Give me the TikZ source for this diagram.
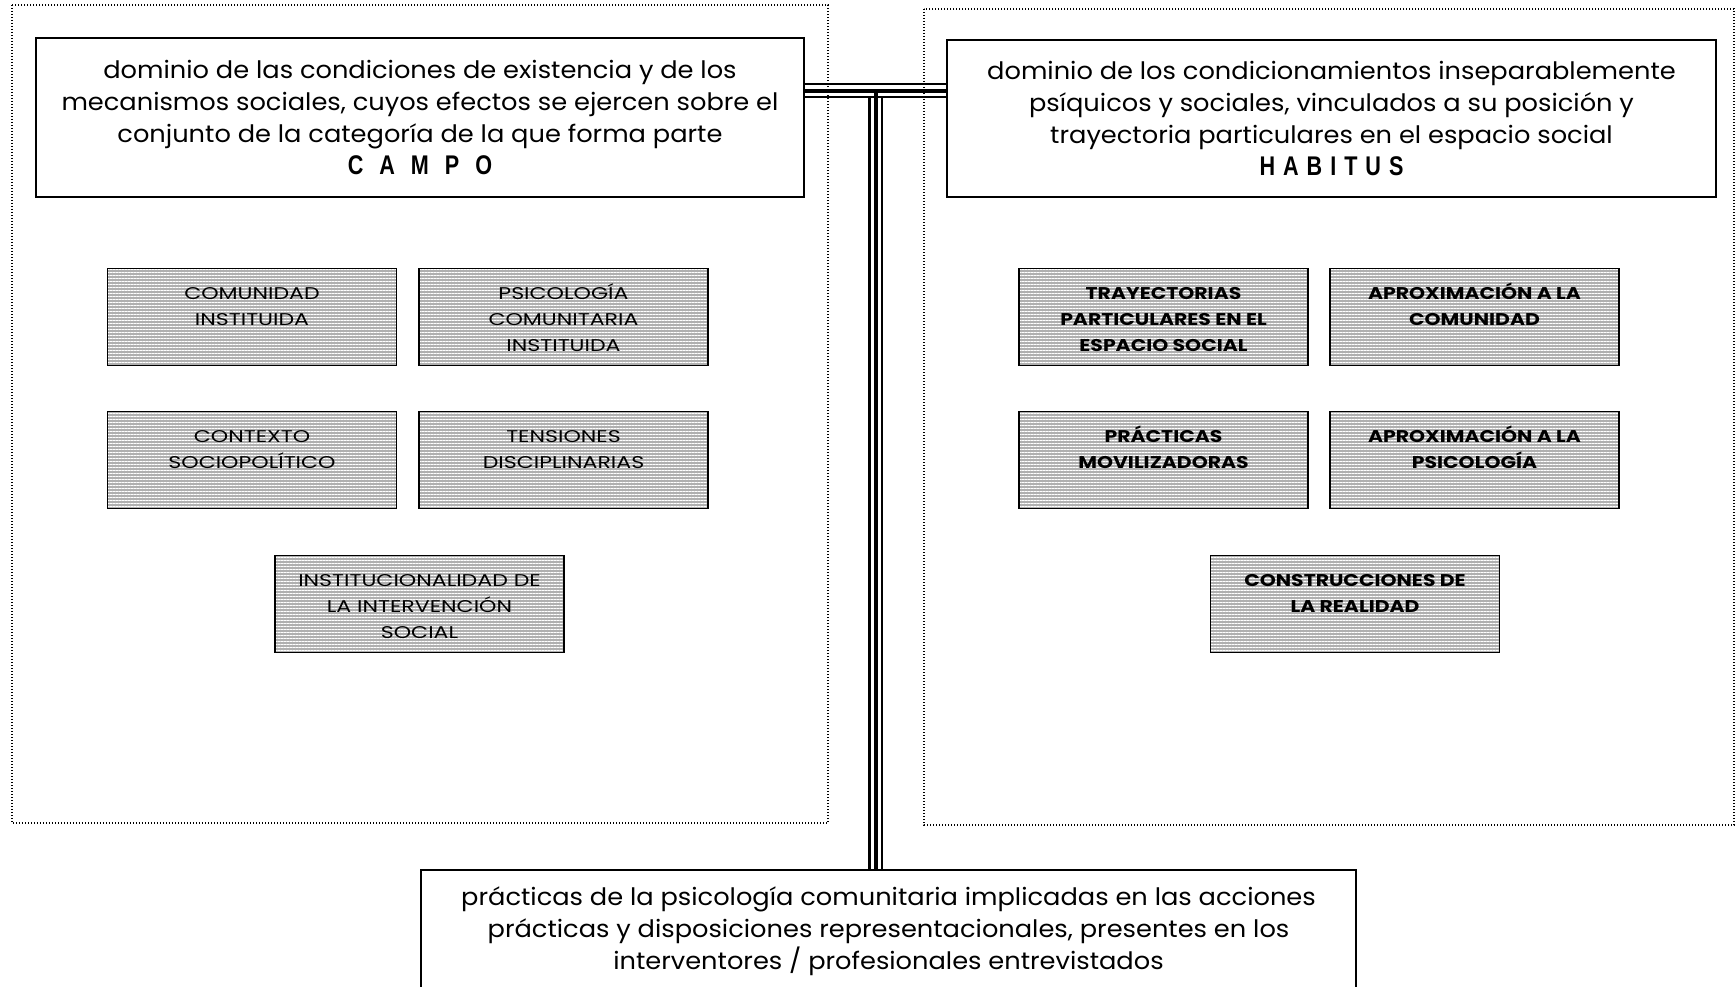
\documentclass[tikz,border=0pt]{standalone}
\usepackage{fontspec}
\setmainfont{Poppins}[FakeStretch=1.07]
\newfontfamily\capsreg{Poppins}[FakeStretch=1.3]
\newfontfamily\capsbold{Poppins}[FakeStretch=1.2]
\newfontfamily\titlefont{Liberation Sans}[FakeStretch=0.8]
\usetikzlibrary{patterns.meta,calc}
\newcommand\hbtext[1]{\parbox[c][97pt][t]{289pt}{\centering\rule{0pt}{31pt}#1}}
\newcommand\bottomtext[1]{\parbox[c][132pt][t]{935pt}{\centering\rule{0pt}{35pt}#1}}
\begin{document}
\begin{tikzpicture}[x=1pt,y=-1pt,
  frame/.style={draw, line width=1.3pt, dash pattern=on 1.4pt off 1.6pt},
  headbox/.style={draw, line width=2pt, align=center, inner sep=0pt, fill=white,
    font=\fontsize{24}{32}\selectfont},
  hatchbox/.style={draw, line width=1.8pt, inner sep=0pt,
    font=\capsreg\fontsize{17}{26}\selectfont,
    preaction={fill=black!31},
    pattern={Lines[angle=0,distance=3pt,line width=1pt]}, pattern color=white},
  boldbox/.style={hatchbox, font=\capsbold\bfseries\fontsize{17}{26}\selectfont},
  thin/.style={line width=2.3pt},
  thick/.style={line width=4.5pt}
]
\useasboundingbox (0,0) rectangle (1736,987);
% dotted frames
\draw[frame] (12,5) rectangle (828,823);
\draw[frame] (924,9) rectangle (1734,825);
% header boxes
\node[headbox, minimum width=768pt, minimum height=159pt] (campo) at (420,117.5)
  {dominio de las condiciones de existencia y de los\\
   mecanismos sociales, cuyos efectos se ejercen sobre el\\
   conjunto de la categoría de la que forma parte\\
   {\titlefont\bfseries\fontsize{27}{32}\selectfont\spaceskip=16pt C A M P O}};
\node[headbox, minimum width=769pt, minimum height=157pt] (habitus) at (1331.5,118.5)
  {dominio de los condicionamientos inseparablemente\\
   psíquicos y sociales, vinculados a su posición y\\
   trayectoria particulares en el espacio social\\
   {\titlefont\bfseries\fontsize{27}{32}\selectfont\spaceskip=8pt H A B I T U S}};
% bottom box
\node[headbox, anchor=north] (practicas) at (888.5,869)
  {\bottomtext{prácticas de la psicología comunitaria implicadas en las acciones\\
   prácticas y disposiciones representacionales, presentes en los\\
   interventores / profesionales entrevistados}};
% hatched boxes left
\node[hatchbox] (comunidad) at (252,317) {\hbtext{COMUNIDAD\\INSTITUIDA}};
\node[hatchbox] (psico) at (563.5,317) {\hbtext{PSICOLOGÍA\\COMUNITARIA\\INSTITUIDA}};
\node[hatchbox] (contexto) at (252,460) {\hbtext{CONTEXTO\\SOCIOPOLÍTICO}};
\node[hatchbox] (tensiones) at (563.5,460) {\hbtext{TENSIONES\\DISCIPLINARIAS}};
\node[hatchbox] (inst) at (419.5,604) {\hbtext{INSTITUCIONALIDAD DE\\LA INTERVENCIÓN\\SOCIAL}};
% hatched boxes right
\node[boldbox] (tray) at (1163.5,317) {\hbtext{TRAYECTORIAS\\PARTICULARES EN EL\\ESPACIO SOCIAL}};
\node[boldbox] (aprocom) at (1474.5,317) {\hbtext{APROXIMACIÓN A LA\\COMUNIDAD}};
\node[boldbox] (pracmov) at (1163.5,460) {\hbtext{PRÁCTICAS\\MOVILIZADORAS}};
\node[boldbox] (apropsi) at (1474.5,460) {\hbtext{APROXIMACIÓN A LA\\PSICOLOGÍA}};
\node[boldbox] (constr) at (1355,604) {\hbtext{CONSTRUCCIONES DE\\LA REALIDAD}};
% triple-line T connector
\coordinate (h1) at (0,84.3);
\coordinate (h2) at (0,91);
\coordinate (h3) at (0,97);
\draw[thin] (campo.east |- h1) -- (habitus.west |- h1);
\draw[thick] (campo.east |- h2) -- (habitus.west |- h2);
\draw[thin] (campo.east |- h3) -- (habitus.west |- h3);
\coordinate (v1) at (869.5,97);
\coordinate (v2) at (876,91);
\coordinate (v3) at (882.3,97);
\draw[thin] (v1) -- (v1 |- practicas.north);
\draw[thick] (v2) -- (v2 |- practicas.north);
\draw[thin] (v3) -- (v3 |- practicas.north);
\end{tikzpicture}
\end{document}
